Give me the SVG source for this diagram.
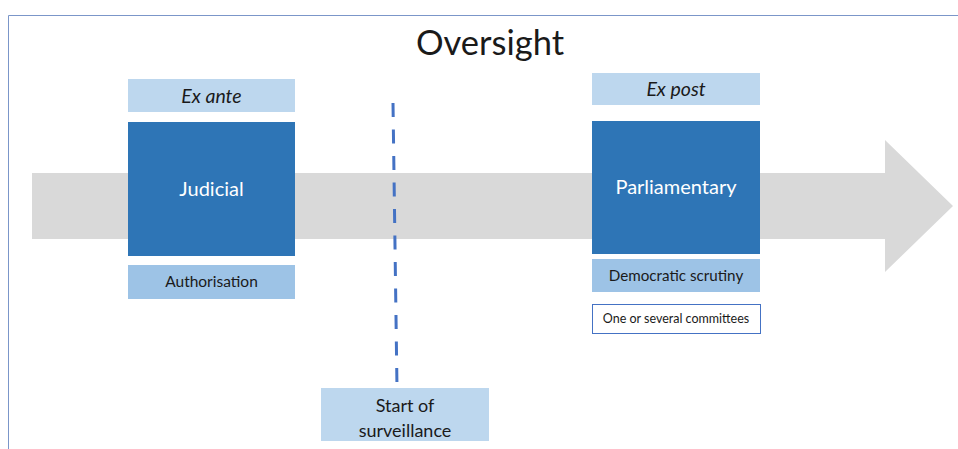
<svg xmlns="http://www.w3.org/2000/svg" width="958" height="449" viewBox="0 0 958 449">
<style>
text{font-family:Lato,"Liberation Sans",sans-serif;text-anchor:middle}
.lb{fill:#bdd7ee}
.mb{fill:#9dc3e6}
.db{fill:#2e75b6}
.wt{fill:#ffffff;font-size:20px}
.bt{fill:#1a1a1a}
.it{font-style:italic;font-size:19.5px}
</style>
<rect width="958" height="449" fill="#ffffff"/>
<path d="M8.5 449V15.5H958" fill="none" stroke="#7b96c9" stroke-width="1"/>
<text x="490" y="55" class="bt" style="font-size:34.5px">Oversight</text>
<polygon points="32,173 885,173 885,140 953,206 885,272 885,239 32,239" fill="#d9d9d9"/>
<g id="connectors">
<line x1="393" y1="103" x2="397" y2="388" stroke="#4472c4" stroke-width="3" stroke-dasharray="14,12.5"/>
</g>
<g id="exante"><rect x="128" y="79" width="167" height="33" class="lb"/><text x="211.5" y="103" class="bt it">Ex ante</text></g>
<g id="judicial"><rect x="128" y="122" width="167" height="134" class="db"/><text x="211.5" y="196" class="wt">Judicial</text></g>
<g id="authorisation"><rect x="128" y="265" width="167" height="34" class="mb"/><text x="211.5" y="287" class="bt" style="font-size:15.5px">Authorisation</text></g>
<g id="expost"><rect x="592" y="73" width="168" height="32" class="lb"/><text x="676" y="96" class="bt it">Ex post</text></g>
<g id="parliamentary"><rect x="592" y="121" width="168" height="133" class="db"/><text x="676" y="194" class="wt">Parliamentary</text></g>
<g id="democratic"><rect x="592" y="259" width="168" height="33" class="mb"/><text x="676" y="281" class="bt" style="font-size:15.2px">Democratic scrutiny</text></g>
<g id="committees"><rect x="592.5" y="304.5" width="168" height="29" fill="#ffffff" stroke="#4472c4" stroke-width="1"/><text x="676" y="323" class="bt" style="font-size:12.5px">One or several committees</text></g>
<g id="start"><rect x="321" y="388" width="168" height="53" class="lb"/><text x="405" y="412" class="bt" style="font-size:18px">Start of</text><text x="405" y="437" class="bt" style="font-size:18px">surveillance</text></g>
</svg>
